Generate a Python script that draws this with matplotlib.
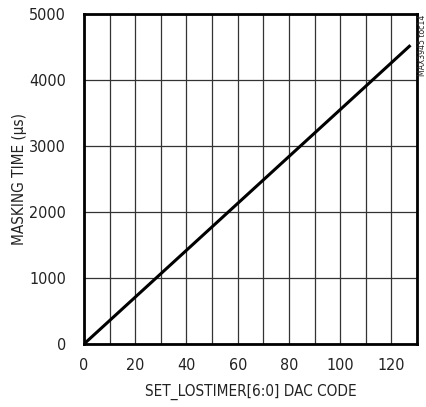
import matplotlib
matplotlib.use('Agg')
import matplotlib.pyplot as plt

# data (linear transfer)
dac_code = [0, 20, 40, 60, 80, 100, 127]
masking_time_us = [0, 710, 1420, 2130, 2840, 3550, 4510]

plt.rcParams['font.family'] = ['DejaVu Sans']
plt.rcParams['font.stretch'] = 'condensed'

fig = plt.figure(figsize=(4.27, 4.07), dpi=100)
ax = fig.add_axes([0.1967, 0.1548, 0.78, 0.811])

ax.plot(dac_code, masking_time_us, color='black', linewidth=2.2, zorder=5)

ax.set_xlim(0, 130)
ax.set_ylim(0, 5000)
ax.set_xticks(range(0, 121, 20))
ax.set_xticks(range(0, 131, 10), minor=True)
ax.set_yticks(range(0, 5001, 1000))
ax.grid(which='both', color='#333333', linewidth=0.9, zorder=0)
ax.tick_params(which='both', length=0, labelsize=11.5, colors='#222222')
ax.tick_params(axis='y', pad=13)
ax.tick_params(axis='x', pad=10)
for s in ax.spines.values():
    s.set_linewidth(2)

ax.set_xlabel('SET_LOSTIMER[6:0] DAC CODE', fontsize=11, color='#222222', labelpad=8)
ax.set_ylabel('MASKING TIME (µs)', fontsize=11, color='#222222')
ax.yaxis.set_label_coords(-0.171, 0.5)

fig.text(0.99, 0.965, 'MAX3945 toc14', rotation=90, fontsize=6.2,
         ha='center', va='top', color='#222222')

fig.savefig('out.png', dpi=100)
